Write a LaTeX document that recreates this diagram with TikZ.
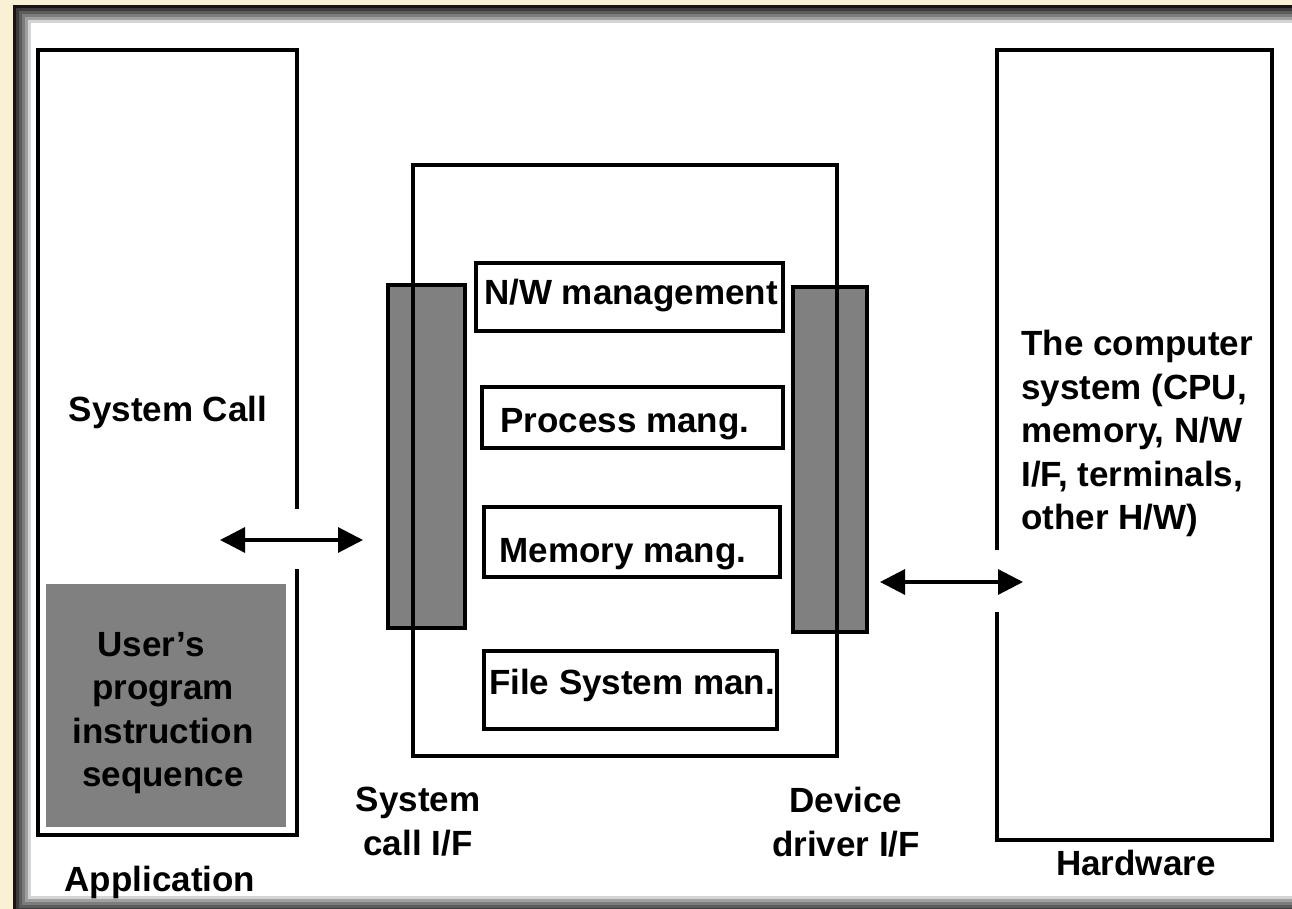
\documentclass[tikz,border=0pt]{standalone}
\usepackage{fontspec}
\setmainfont{Liberation Sans}
\usetikzlibrary{arrows.meta}

\definecolor{parchment}{RGB}{250,240,214}
\definecolor{bevA}{RGB}{28,20,20}
\definecolor{bevB}{RGB}{60,60,60}
\definecolor{bevC}{RGB}{92,92,92}
\definecolor{bevD}{RGB}{124,124,124}
\definecolor{bevE}{RGB}{160,160,160}
\definecolor{bevF}{RGB}{212,212,212}
\definecolor{bargray}{RGB}{128,128,128}

\begin{document}
\begin{tikzpicture}[x=0.5pt, y=-0.5pt,
  frameline/.style={line width=1.6pt, draw=black},
  box/.style={rectangle, draw, line width=1.6pt, inner sep=0pt, outer sep=0pt},
  bar/.style={rectangle, draw, line width=1.6pt, fill=bargray, inner sep=0pt, outer sep=0pt},
  txt/.style={inner sep=0pt, font=\fontsize{17.5}{21.75}\selectfont\bfseries, align=center},
  link/.style={{Triangle[length=12.5pt,width=12.5pt]}-{Triangle[length=12.5pt,width=12.5pt]}, line width=1.6pt}]

  \useasboundingbox (0,0) rectangle (1292,909);
  \clip (0,0) rectangle (1292,909);

  % window frame
  \fill[parchment] (0,0) rectangle (1292,909);
  \foreach \i/\c in {0/bevA,1/bevB,2/bevC,3/bevD,4/bevE,5/bevF}
    \fill[\c] (13+3*\i,5+3*\i) rectangle (1310-3*\i,914-3*\i);
  \fill[white] (31,23) rectangle (1292,896);

  % Application side
  \node[box, draw=none, minimum width=129.5pt, minimum height=392.5pt] (appbox) at (167.5,442.5) {};
  \coordinate (appgapT) at (297,509);
  \coordinate (appgapB) at (297,569);
  \draw[frameline] (appgapT) -- (appbox.north east) -- (appbox.north west)
    -- (appbox.south west) -- (appbox.south east) -- (appgapB);
  \node[rectangle, fill=bargray, inner sep=0pt, minimum width=120pt, minimum height=121.5pt] (userbox) at (166,705.5) {};
  \node[txt, anchor=base] (syscall) at (168,422) {System Call};
  \node[txt, anchor=north] (usertxt) at (163,632) {User’s\hspace*{0.68em}\\program\\instruction\\sequence};
  \node[txt, anchor=base] (applbl) at (160,891) {Application};

  % interfaces
  \node[bar, minimum width=38.5pt, minimum height=171.5pt] (sysbar) at (426.5,456.5) {};
  \node[bar, minimum width=37pt, minimum height=172.5pt] (devbar) at (830,459.5) {};
  \node[txt, anchor=north] (sysif) at (418,787) {System\\call I/F};
  \node[txt, anchor=north] (devif) at (846,787) {Device\\driver I/F};

  % kernel
  \node[box, minimum width=212pt, minimum height=295.5pt] (kernel) at (625,460.5) {};
  \node[box, minimum width=153.5pt, minimum height=34pt] (nwbox) at (629.5,297) {};
  \node[txt, anchor=base] (nwtxt) at (631,305) {N/W management};
  \node[box, minimum width=150.5pt, minimum height=30.5pt] (procbox) at (632.5,417.5) {};
  \node[txt, anchor=base] (proctxt) at (625,433) {Process mang.};
  \node[box, minimum width=148pt, minimum height=35pt] (membox) at (632,542) {};
  \node[txt, anchor=base] (memtxt) at (623,562) {Memory mang.};
  \node[box, minimum width=146.5pt, minimum height=39pt] (filebox) at (630.5,690) {};
  \node[txt, anchor=base] (filetxt) at (632,694) {File System man.};

  % Hardware side
  \node[box, draw=none, minimum width=137.5pt, minimum height=395pt] (hwbox) at (1134.5,445) {};
  \coordinate (hwgapT) at (997,550);
  \coordinate (hwgapB) at (997,612);
  \draw[frameline] (hwgapT) -- (hwbox.north west) -- (hwbox.north east)
    -- (hwbox.south east) -- (hwbox.south west) -- (hwgapB);
  \node[txt, anchor=north west, align=left] (hwtxt) at (1021,330)
    {The computer\\system (CPU,\\memory, N/W\\I/F, terminals,\\other H/W)};
  \node[txt, anchor=base] (hwlbl) at (1136,875) {Hardware};

  % calls across the interfaces
  \coordinate (appport) at (220,540);
  \coordinate (sysport) at (363,540);
  \coordinate (devport) at (880,582);
  \coordinate (hwport) at (1023,582);
  \draw[link] (appport) -- (sysport);
  \draw[link] (devport) -- (hwport);
\end{tikzpicture}
\end{document}
